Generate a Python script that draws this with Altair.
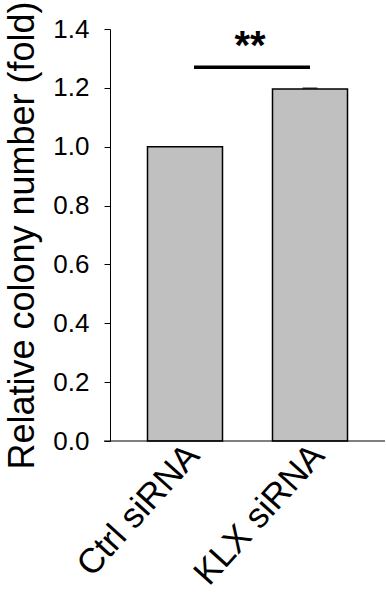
import altair as alt
import pandas as pd

groups = ["Ctrl siRNA", "KLX siRNA"]
fold = [1.0, 1.196]
err = [0.0, 0.003]
sig_pair = ["Ctrl siRNA", "KLX siRNA"]
sig_level = 1.27
sig_text = "**"

df = pd.DataFrame({"group": groups, "fold": fold, "err": err})
df["hi"] = df["fold"] + df["err"]

FONT = "Liberation Sans"
W, H = 275, 412

x = alt.X("group:N", sort=groups,
          scale=alt.Scale(paddingInner=0.4, paddingOuter=0.3),
          axis=alt.Axis(title=None, labelAngle=-48, labelFont=FONT, labelFontSize=35,
                        labelColor="black", ticks=False, domain=False, labelLimit=400,
                        labelPadding=8, labelOffset=8, labelAlign="right",
                        labelBaseline="middle"))
y = alt.Y("fold:Q",
          scale=alt.Scale(domain=[0, 1.4], nice=False),
          axis=alt.Axis(title="Relative colony number (fold)", titleFont=FONT,
                        titleFontSize=36, titleFontWeight="normal", titleColor="black",
                        titlePadding=11, values=[0, 0.2, 0.4, 0.6, 0.8, 1.0, 1.2, 1.4],
                        format=".1f", labelFont=FONT, labelFontSize=26, labelColor="black",
                        labelPadding=15, tickSize=6, tickColor="black", domainColor="black",
                        grid=False))

bars = alt.Chart(df).mark_bar(fill="#c0c0c0", stroke="black", strokeWidth=1.5).encode(x=x, y=y)

caps = alt.Chart(df[df["err"] > 0]).mark_tick(color="black", thickness=1.5, size=15).encode(
    x=alt.X("group:N", sort=groups), y=alt.Y("hi:Q"))

xaxis_line = alt.Chart(pd.DataFrame({"v": [0]})).mark_rule(color="black", strokeWidth=1.2).encode(
    x=alt.value(-6), x2=alt.value(W), y=alt.Y("v:Q"))

sig_df = pd.DataFrame({"a": [sig_pair[0]], "b": [sig_pair[1]], "lvl": [sig_level], "t": [sig_text]})
sig_line = alt.Chart(sig_df).mark_rule(color="black", strokeWidth=3.5).encode(
    x=alt.value(84), x2=alt.value(200), y=alt.Y("lvl:Q"))
sig_star = alt.Chart(sig_df).mark_text(font=FONT, fontSize=40, fontWeight="bold", color="black",
                                       baseline="bottom", dy=0).encode(
    x=alt.value(140), y=alt.Y("lvl:Q"), text="t:N")

chart = alt.layer(bars, caps, xaxis_line, sig_line, sig_star).properties(
    width=W, height=H,
    padding={"left": 110, "top": 29, "right": 1, "bottom": 165},
    autosize=alt.AutoSizeParams(type="none"),
    background="white",
).configure_view(stroke=None)

chart.save("out.html", embed_options={"renderer": "svg", "actions": False})
